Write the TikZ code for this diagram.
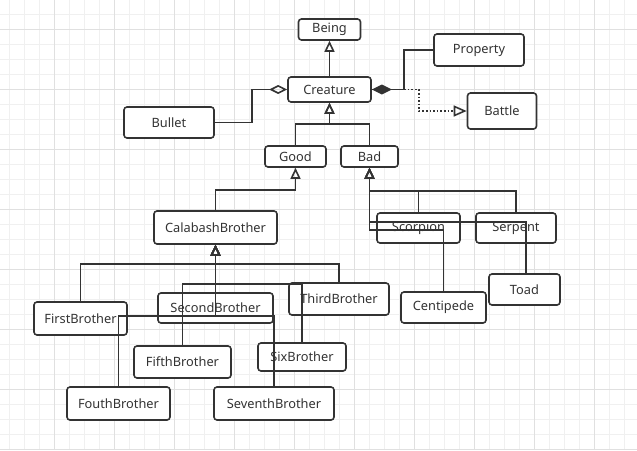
\documentclass[tikz,border=0pt]{standalone}
\usepackage{fontspec}
\setmainfont{Noto Sans}
\usetikzlibrary{arrows.meta}
\definecolor{ink}{HTML}{333333}
\definecolor{gridlo}{HTML}{F0F0F0}
\definecolor{gridhi}{HTML}{E0E0E0}

\begin{document}
\begin{tikzpicture}[x=1pt,y=-1pt,
	cls/.style={draw=ink,line width=1.6pt,rounded corners=3pt,fill=white,text=ink,
		inner sep=0pt,font=\fontsize{12.8}{14}\selectfont},
	link/.style={draw=ink,line width=1.6pt},
	inherit/.style={link,-{Triangle[open,length=11pt,width=10pt,line width=1.6pt]}},
	aggr/.style={link,-{Diamond[open,length=18pt,width=9pt,line width=1.6pt]}},
	comp/.style={link,{Diamond[length=20pt,width=10pt]}-},
	uses/.style={link,dotted,-{Triangle[open,length=13pt,width=11pt,line width=1.6pt]}}]
	\useasboundingbox (0,0) rectangle (637,450);
	% background grid
	\foreach \gx in {9,24,...,636} \draw[gridlo,line width=0.6pt] (\gx,0) -- (\gx,450);
	\foreach \gy in {14,29,...,449} \draw[gridlo,line width=0.6pt] (0,\gy) -- (637,\gy);
	\foreach \gx in {54,114,...,636} \draw[gridhi,line width=0.6pt] (\gx,0) -- (\gx,450);
	\foreach \gy in {29,89,...,449} \draw[gridhi,line width=0.6pt] (0,\gy) -- (637,\gy);
	% classes
	\node[cls,minimum width=62pt,minimum height=21pt] (being) at (329.5,29.5) {Being};
	\node[cls,minimum width=83pt,minimum height=25pt] (creature) at (329.5,89.5) {Creature};
	\node[cls,minimum width=90pt,minimum height=32pt] (property) at (479,50) {Property};
	\node[cls,minimum width=69pt,minimum height=36pt] (battle) at (502,111) {Battle};
	\node[cls,minimum width=90pt,minimum height=31pt] (bullet) at (169,122.5) {Bullet};
	\node[cls,minimum width=61pt,minimum height=21pt] (good) at (295.5,156.5) {Good};
	\node[cls,minimum width=57pt,minimum height=21pt] (bad) at (369.5,156.5) {Bad};
	\node[cls,minimum width=123pt,minimum height=33pt] (calabash) at (215.5,227.5) {CalabashBrother};
	\node[cls,minimum width=83pt,minimum height=30pt] (scorpion) at (418.5,228) {Scorpion};
	\node[cls,minimum width=80pt,minimum height=30pt] (serpent) at (516,228) {Serpent};
	\node[cls,minimum width=71pt,minimum height=31pt] (toad) at (524.5,289.5) {Toad};
	\node[cls,minimum width=85pt,minimum height=31pt] (centipede) at (443.5,307.5) {Centipede};
	\node[cls,minimum width=93pt,minimum height=33pt] (first) at (80.5,318.5) {FirstBrother};
	\node[cls,minimum width=115pt,minimum height=30pt] (second) at (215.5,308) {SecondBrother};
	\node[cls,minimum width=100pt,minimum height=32pt] (third) at (339,299) {ThirdBrother};
	\node[cls,minimum width=97pt,minimum height=32pt] (fifth) at (182.5,362) {FifthBrother};
	\node[cls,minimum width=88pt,minimum height=28pt] (six) at (302,357) {SixBrother};
	\node[cls,minimum width=103pt,minimum height=33pt] (fouth) at (118.5,403.5) {FouthBrother};
	\node[cls,minimum width=120pt,minimum height=33pt] (seventh) at (274,403.5) {SeventhBrother};
	% top part
	\draw[inherit] (creature) -- (being);
	\draw[inherit] (good.north) |- (creature.south |- 0,124) -- (creature.south);
	\draw[inherit] (bad.north) |- (creature.south |- 0,124) -- (creature.south);
	\draw[aggr] (bullet.east) -- ++(37,0) |- (creature.west);
	\draw[uses] (creature.east) -- ++(47,0) |- (battle.west);
	\draw[comp] (creature.east) -- ++(32,0) |- (property.west);
	% good side
	\draw[inherit] (calabash.north) |- (good.south |- 0,190) -- (good.south);
	% bad side
	\draw[inherit] (scorpion.north) |- (bad.south |- 0,191) -- (bad.south);
	\draw[inherit] (serpent.north) |- (bad.south |- 0,191) -- (bad.south);
	\draw[inherit] ([xshift=1.5pt]toad.north) |- (bad.south |- 0,222) -- (bad.south);
	\draw[inherit] (centipede.north) |- (bad.south |- 0,230) -- (bad.south);
	% brothers
	\draw[inherit] (first.north) |- (calabash.south |- 0,264) -- (calabash.south);
	\draw[inherit] (third.north) |- (calabash.south |- 0,264) -- (calabash.south);
	\draw[inherit] (fifth.north) |- (calabash.south |- 0,284) -- (calabash.south);
	\draw[inherit] (six.north) |- (calabash.south |- 0,284) -- (calabash.south);
	\draw[inherit] (fouth.north) |- (calabash.south |- 0,316) -- (calabash.south);
	\draw[inherit] (seventh.north) |- (calabash.south |- 0,316) -- (calabash.south);
\end{tikzpicture}
\end{document}
